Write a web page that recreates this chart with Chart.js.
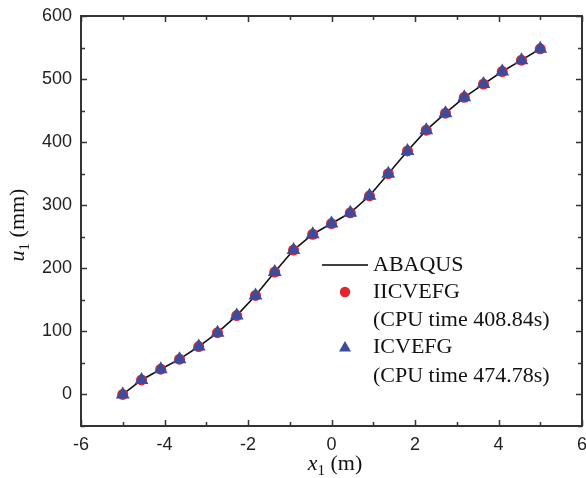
<!DOCTYPE html>
<html>
<head>
<meta charset="utf-8">
<script src="https://cdn.jsdelivr.net/npm/chart.js@4"></script>
<style>
  html, body { margin: 0; padding: 0; background: #fff; }
  #wrap { width: 586px; height: 478px; }
</style>
</head>
<body>
<div id="wrap"><canvas id="myChart" width="586" height="478"></canvas></div>
<script>
// data
const xValues = [-5, -4.55, -4.09, -3.64, -3.18, -2.73, -2.27, -1.82, -1.36, -0.91, -0.45, 0,
                 0.45, 0.91, 1.36, 1.82, 2.27, 2.73, 3.18, 3.64, 4.09, 4.55, 5];
const abaqus  = [0, 23, 40, 56, 76, 98, 125, 157, 194, 229, 254, 271, 288, 315, 350, 386, 419, 446, 471, 492, 512, 530, 548];
const iicvefg = [0, 23, 40, 56, 76, 98, 125, 157, 194, 229, 254, 271, 288, 315, 350, 386, 419, 446, 471, 492, 512, 530, 548];
const icvefg  = [0, 23, 40, 56, 76, 98, 125, 157, 194, 229, 254, 271, 288, 315, 350, 386, 419, 446, 471, 492, 512, 530, 548];
const xMajor = [-6, -4, -2, 0, 2, 4, 6];
const xMinor = [-5, -3, -1, 1, 3, 5];
const yMajor = [0, 100, 200, 300, 400, 500, 600];
const yMinor = [-50, 50, 150, 250, 350, 450, 550];
const legendLines = ['ABAQUS', 'IICVEFG', '(CPU time 408.84s)', 'ICVEFG', '(CPU time 474.78s)'];

const RED = '#e3242b';
const BLUE = '#3d4b9c';
const AXIS = '#333333';
const serif = '"Liberation Serif", "Times New Roman", serif';

function pts(ys) {
  return xValues.map((x, i) => ({ x: x, y: ys[i] }));
}

const framePlugin = {
  id: 'frame',
  afterDraw(chart) {
    const ctx = chart.ctx;
    const a = chart.chartArea;
    const sx = chart.scales.x, sy = chart.scales.y;
    ctx.save();
    ctx.strokeStyle = AXIS;
    ctx.lineWidth = 2;
    ctx.strokeRect(a.left, a.top, a.right - a.left, a.bottom - a.top);
    ctx.lineWidth = 1.5;
    ctx.beginPath();
    const tick = (vals, len) => {
      vals.forEach(v => {
        const px = Math.round(sx.getPixelForValue(v)) + 0.5;
        ctx.moveTo(px, a.bottom); ctx.lineTo(px, a.bottom - len);
        ctx.moveTo(px, a.top); ctx.lineTo(px, a.top + len);
      });
    };
    const tickY = (vals, len) => {
      vals.forEach(v => {
        const py = Math.round(sy.getPixelForValue(v)) + 0.5;
        ctx.moveTo(a.left, py); ctx.lineTo(a.left + len, py);
        ctx.moveTo(a.right, py); ctx.lineTo(a.right - len, py);
      });
    };
    tick(xMajor, 6); tick(xMinor, 4);
    tickY(yMajor, 6); tickY(yMinor, 4);
    ctx.stroke();

    // axis titles with subscripts
    ctx.fillStyle = '#111';
    ctx.textBaseline = 'alphabetic';
    const title = (main, sub, rest) => {
      ctx.font = 'italic 22px ' + serif;
      const w1 = ctx.measureText(main).width;
      ctx.font = '15px ' + serif;
      const w2 = ctx.measureText(sub).width;
      ctx.font = '22px ' + serif;
      const w3 = ctx.measureText(rest).width;
      const total = w1 + w2 + w3;
      let x = -total / 2;
      ctx.font = 'italic 22px ' + serif;
      ctx.fillText(main, x, 0); x += w1;
      ctx.font = '15px ' + serif;
      ctx.fillText(sub, x, 5); x += w2;
      ctx.font = '22px ' + serif;
      ctx.fillText(rest, x, 0);
    };
    ctx.save();
    ctx.translate(335, 470);
    title('x', '1', ' (m)');
    ctx.restore();
    ctx.save();
    ctx.translate(24, 225);
    ctx.rotate(-Math.PI / 2);
    title('u', '1', ' (mm)');
    ctx.restore();

    // legend
    ctx.font = '22px ' + serif;
    ctx.textBaseline = 'middle';
    ctx.textAlign = 'left';
    const tx = 373;
    const rows = [265, 292, 320, 347, 376];
    legendLines.forEach((t, i) => ctx.fillText(t, tx, rows[i]));
    ctx.strokeStyle = '#000';
    ctx.lineWidth = 1.5;
    ctx.beginPath();
    ctx.moveTo(322, rows[0]); ctx.lineTo(368, rows[0]);
    ctx.stroke();
    ctx.fillStyle = RED;
    ctx.beginPath();
    ctx.arc(345, rows[1], 5.2, 0, Math.PI * 2);
    ctx.fill();
    ctx.fillStyle = BLUE;
    ctx.beginPath();
    ctx.moveTo(345, rows[3] - 6);
    ctx.lineTo(351, rows[3] + 4.5);
    ctx.lineTo(339, rows[3] + 4.5);
    ctx.closePath();
    ctx.fill();
    ctx.restore();
  }
};

new Chart(document.getElementById('myChart'), {
  type: 'scatter',
  data: {
    datasets: [
      {
        label: 'ICVEFG',
        data: pts(icvefg),
        pointStyle: 'triangle',
        pointRadius: 8,
        backgroundColor: BLUE,
        borderColor: BLUE,
        borderWidth: 0,
        order: 0
      },
      {
        label: 'IICVEFG',
        data: pts(iicvefg),
        pointStyle: 'circle',
        pointRadius: 5.5,
        backgroundColor: RED,
        borderColor: RED,
        borderWidth: 0,
        order: 1
      },
      {
        label: 'ABAQUS',
        type: 'line',
        data: pts(abaqus),
        borderColor: '#111',
        borderWidth: 1.6,
        pointRadius: 0,
        fill: false,
        tension: 0,
        order: 2
      }
    ]
  },
  options: {
    responsive: false,
    animation: false,
    layout: { autoPadding: false, padding: { top: 16, right: 4, left: 0, bottom: 0 } },
    plugins: { legend: { display: false }, tooltip: { enabled: false } },
    scales: {
      x: {
        type: 'linear',
        min: -6, max: 6,
        grid: { display: false, drawTicks: false },
        border: { display: false },
        afterBuildTicks: s => { s.ticks = xMajor.map(v => ({ value: v })); },
        afterFit: s => { s.height = 52; s.paddingLeft = 0; s.paddingRight = 0; },
        ticks: {
          padding: 8,
          color: '#222',
          maxRotation: 0,
          autoSkip: false,
          font: { family: '"Liberation Sans", Arial, sans-serif', size: 18 }
        }
      },
      y: {
        type: 'linear',
        min: -50, max: 600,
        grid: { display: false, drawTicks: false },
        border: { display: false },
        afterBuildTicks: s => { s.ticks = yMajor.map(v => ({ value: v })); },
        afterFit: s => { s.width = 81; s.paddingTop = 0; s.paddingBottom = 0; },
        ticks: {
          padding: 9,
          color: '#222',
          autoSkip: false,
          font: { family: '"Liberation Sans", Arial, sans-serif', size: 18 }
        }
      }
    }
  },
  plugins: [framePlugin]
});
</script>
</body>
</html>
